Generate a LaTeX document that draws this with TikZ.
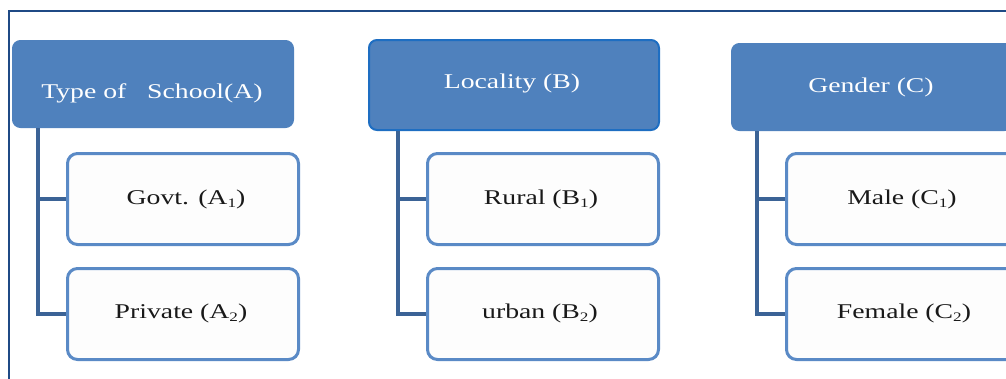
\documentclass[tikz,border=0pt]{standalone}
\usepackage{fontspec}
\setmainfont{Liberation Serif}[FakeStretch=1.32]
\definecolor{hdfill}{HTML}{4F81BD}
\definecolor{hdborder}{HTML}{1E6EC2}
\definecolor{chborder}{HTML}{5A8AC6}
\definecolor{chfill}{HTML}{FDFDFD}
\definecolor{conn}{HTML}{3B6396}
\definecolor{frame}{HTML}{1F4A85}
\newcommand\lowsub[1]{\raisebox{-0.35ex}{\fontsize{13}{13}\selectfont #1}}
\tikzset{
  hdbox/.style={draw=hdfill, fill=hdfill, line width=1pt, rounded corners=8pt, inner sep=0pt, anchor=north west},
  chbox/.style={draw=chborder, fill=chfill, line width=3pt, rounded corners=10pt, inner sep=0pt, anchor=north west, minimum width=231pt, minimum height=91pt},
  hdtext/.style={text=white, font=\fontsize{21}{24}\selectfont, inner sep=0pt},
  chtext/.style={text=black!90, font=\fontsize{21}{24}\selectfont, inner sep=0pt},
  connline/.style={draw=conn, line width=4pt}
}
\begin{document}
\begin{tikzpicture}[x=1pt,y=-1pt]
\useasboundingbox (0,0) rectangle (1006,378);
% frame
\coordinate (fBL) at (9,380);
\coordinate (fTL) at (9,11);
\coordinate (fTR) at (1010,11);
\draw[frame, line width=2.5pt] (fBL) -- (fTL) -- (fTR);
% headers
\node[hdbox, minimum width=281pt, minimum height=87pt] (hA) at (12,40) {};
\node[hdbox, draw=hdborder, line width=2pt, minimum width=290pt, minimum height=90pt] (hB) at (368,39) {};
\node[hdbox, minimum width=281pt, minimum height=87pt] (hC) at (731,43) {};
\node[hdtext] (tA) at (152,93) {Type of\ \ \ School(A)};
\node[hdtext] (tB) at (512,83) {Locality (B)};
\node[hdtext] (tC) at (871,87) {Gender (C)};
% children
\node[chbox] (a1) at (66,152) {};
\node[chbox] (a2) at (66,267) {};
\node[chbox] (b1) at (426,152) {};
\node[chbox] (b2) at (426,267) {};
\node[chbox] (c1) at (785,152) {};
\node[chbox] (c2) at (785,267) {};
\node[chtext] (ta1) at (186,199) {Govt. (A\lowsub{1})};
\node[chtext] (ta2) at (181,313) {Private (A\lowsub{2})};
\node[chtext] (tb1) at (541,199) {Rural (B\lowsub{1})};
\node[chtext] (tb2) at (540,313) {urban (B\lowsub{2})};
\node[chtext] (tc1) at (902,199) {Male (C\lowsub{1})};
\node[chtext] (tc2) at (904,313) {Female (C\lowsub{2})};
% connectors
\coordinate (aTop) at ([xshift=26pt]hA.south west);
\coordinate (bTop) at ([xshift=30pt]hB.south west);
\coordinate (cTop) at ([xshift=26pt]hC.south west);
\draw[connline] (aTop) |- (a1.west);
\draw[connline] (aTop) |- (a2.west);
\draw[connline] (bTop) |- (b1.west);
\draw[connline] (bTop) |- (b2.west);
\draw[connline] (cTop) |- (c1.west);
\draw[connline] (cTop) |- (c2.west);
\end{tikzpicture}
\end{document}
